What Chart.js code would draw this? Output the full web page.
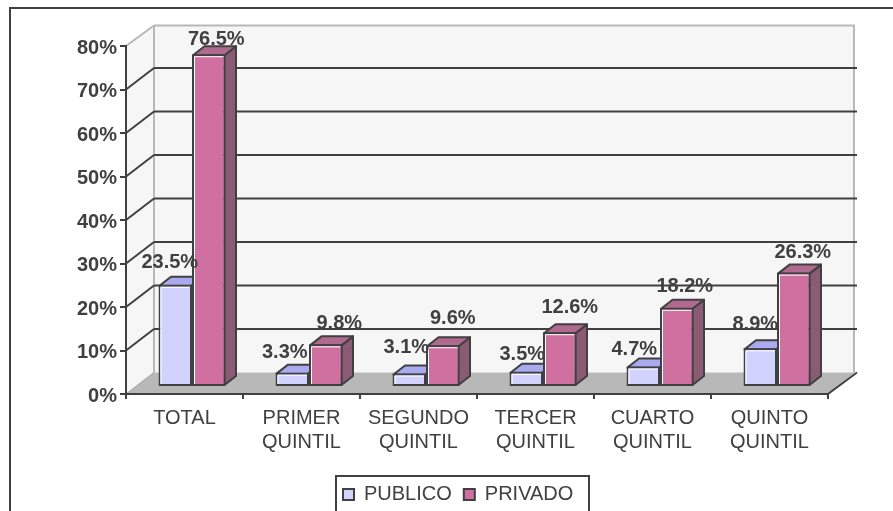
<!DOCTYPE html>
<html>
<head>
<meta charset="utf-8">
<style>html,body{margin:0;padding:0;background:#fff;overflow:hidden}canvas{display:block}</style>
<script src="https://cdn.jsdelivr.net/npm/chart.js@4/dist/chart.umd.min.js"></script>
</head>
<body>
<canvas id="c" width="893" height="511"></canvas>
<script>
const categories = [["TOTAL"], ["PRIMER", "QUINTIL"], ["SEGUNDO", "QUINTIL"], ["TERCER", "QUINTIL"], ["CUARTO", "QUINTIL"], ["QUINTO", "QUINTIL"]];
const publico = [23.5, 3.3, 3.1, 3.5, 4.7, 8.9];
const privado = [76.5, 9.8, 9.6, 12.6, 18.2, 26.3];

// label placement relative to each bar's front top centre (styling, not data)
const nudgePublico = [[-5.5, -22], [-7.5, -20], [-3, -26], [-4, -17], [-9, -17], [-5, -24]];
const nudgePrivado = [[7.5, -14.5], [13.5, -21], [10, -27], [10, -25], [8, -21], [9, -20]];

const INK = '#404040', FONT = '"Liberation Sans", Arial, sans-serif';
const BACK = {dx: 28, dy: -21.5, right: 855};
const BAR = {dx: 7.5, dy: -7, depthX: 11.5, depthY: -9};
const faces = [{top: '#AAAAF0', side: '#8E8EC8'}, {top: '#B06A90', side: '#8B5A75'}];

function poly(ctx, pts, fill, stroke, lw) {
  ctx.beginPath();
  pts.forEach((p, i) => i ? ctx.lineTo(p[0], p[1]) : ctx.moveTo(p[0], p[1]));
  ctx.closePath();
  if (fill) { ctx.fillStyle = fill; ctx.fill(); }
  if (stroke) { ctx.strokeStyle = stroke; ctx.lineWidth = lw; ctx.lineJoin = 'round'; ctx.stroke(); }
}
function line(ctx, x0, y0, x1, y1, color, lw) {
  ctx.beginPath(); ctx.moveTo(x0, y0); ctx.lineTo(x1, y1);
  ctx.strokeStyle = color; ctx.lineWidth = lw; ctx.stroke();
}

const scene = {
  id: 'scene',
  afterLayout(chart) {
    const lg = chart.legend;
    const h = lg.height;
    lg.left = 343 - lg.options.labels.padding;
    lg.right = 893;
    lg.top = 484.5 - lg.options.labels.padding;
    lg.bottom = lg.top + h;
  },
  beforeDraw(chart) {
    const {ctx, chartArea: a} = chart, y = chart.scales.y;
    const L = a.left, B = y.getPixelForValue(0), T = y.getPixelForValue(80), R = a.right;
    const bx = L + BACK.dx, bT = T + BACK.dy + 1, bB = B + BACK.dy, bR = BACK.right;
    ctx.save();
    ctx.fillStyle = '#fff'; ctx.fillRect(0, 0, chart.width, chart.height);
    // outer frame
    line(ctx, 9, 8, 893, 8, INK, 2);
    line(ctx, 10, 7, 10, 511, INK, 2);
    // walls and floor
    poly(ctx, [[bx, bT], [bR, bT], [bR, bB], [bx, bB]], '#F6F6F6');
    poly(ctx, [[L, T], [bx, bT], [bx, bB], [L, B]], '#F6F6F6');
    poly(ctx, [[L, B], [bx, bB], [bR, bB], [R, B]], '#B8B8B8');
    line(ctx, L, T, bx, bT, '#B8B8B8', 2);
    line(ctx, bx, bT, bR, bT, '#B8B8B8', 2);
    line(ctx, bx, bT, bx, bB, '#B8B8B8', 2);
    line(ctx, bR - 1, bT, bR - 1, bB, '#B8B8B8', 2);
    line(ctx, L, B, bx, bB, '#A0A0A0', 1);
    // grid lines from the value scale
    y.ticks.forEach(t => {
      const py = y.getPixelForValue(t.value);
      if (t.value > 0 && t.value < 80) {
        line(ctx, L, py, bx, py + BACK.dy, INK, 2);
        line(ctx, bx, py + BACK.dy, bR + 2, py + BACK.dy, INK, 2);
      }
    });
    line(ctx, R, B, bR + 2, bB, INK, 2);
    // legend frame
    ctx.strokeStyle = INK; ctx.lineWidth = 2;
    ctx.strokeRect(336, 476, 253, 60);
    ctx.restore();
  },
  beforeDatasetsDraw(chart) {
    const {ctx} = chart;
    ctx.save();
    ctx.translate(BAR.dx, BAR.dy);
    [0, 1].forEach(ds => {
      chart.getDatasetMeta(ds).data.forEach(b => {
        const x0 = b.x - b.width / 2 + 1, x1 = b.x + b.width / 2 - 1, t = b.y + 1, bt = b.base - 1;
        const dx = BAR.depthX, dy = BAR.depthY;
        poly(ctx, [[x1, t], [x1 + dx, t + dy], [x1 + dx, bt + dy], [x1, bt]], faces[ds].side, INK, 2);
        poly(ctx, [[x0, t], [x0 + dx, t + dy], [x1 + dx, t + dy], [x1, t]], faces[ds].top, INK, 2);
      });
    });
  },
  afterDatasetsDraw(chart) {
    const {ctx} = chart;
    [0, 1].forEach(ds => {
      chart.getDatasetMeta(ds).data.forEach(b => {
        const x0 = b.x - b.width / 2 + 2.5, x1 = b.x + b.width / 2 - 2, t = b.y + 2.5, bt = b.base - 2;
        ctx.beginPath(); ctx.moveTo(x1, t); ctx.lineTo(x0, t); ctx.lineTo(x0, bt);
        ctx.strokeStyle = '#fff'; ctx.lineWidth = 1; ctx.stroke();
      });
    });
    ctx.restore();
    // value labels
    ctx.save();
    ctx.font = 'bold 20px ' + FONT;
    ctx.fillStyle = INK; ctx.textAlign = 'center'; ctx.textBaseline = 'middle';
    [[0, nudgePublico], [1, nudgePrivado]].forEach(([ds, nudge]) => {
      const vals = chart.data.datasets[ds].data;
      chart.getDatasetMeta(ds).data.forEach((b, i) => {
        ctx.fillText(vals[i].toFixed(1) + '%', b.x + BAR.dx + nudge[i][0], b.y + BAR.dy + nudge[i][1]);
      });
    });
    ctx.restore();
  }
};

new Chart(document.getElementById('c'), {
  type: 'bar',
  data: {
    labels: categories,
    datasets: [
      {label: 'PUBLICO', data: publico, backgroundColor: '#D2D2FF', borderColor: INK, borderWidth: 2, borderSkipped: false, clip: false},
      {label: 'PRIVADO', data: privado, backgroundColor: '#D070A0', borderColor: INK, borderWidth: 2, borderSkipped: false, clip: false}
    ]
  },
  options: {
    responsive: false,
    animation: false,
    layout: {padding: {left: 0, right: 65, top: 46, bottom: 0}},
    categoryPercentage: 67 / 117,
    barPercentage: 1,
    plugins: {
      tooltip: {enabled: false},
      legend: {
        position: 'bottom',
        align: 'start',
        labels: {boxWidth: 11, boxHeight: 11, padding: 12, color: INK, font: {family: FONT, size: 20}}
      }
    },
    scales: {
      x: {
        afterFit(s) { s.height = 117 - s.chart.legend.height; },
        grid: {drawOnChartArea: false, color: INK, lineWidth: 2, tickLength: 5},
        border: {color: INK, width: 2},
        ticks: {color: INK, font: {family: FONT, size: 20}, maxRotation: 0, autoSkip: false, padding: 7}
      },
      y: {
        min: 0, max: 80,
        afterFit(s) { s.width = 126; },
        grid: {drawOnChartArea: false, color: INK, lineWidth: 2, tickLength: 6},
        border: {color: INK, width: 2},
        // the blank first line with a small line height sets the label 2px below its tick
        ticks: {stepSize: 10, color: INK, font: {family: FONT, size: 20, weight: 'bold', lineHeight: 0.2}, padding: 3, callback: v => ['', v + '%']}
      }
    }
  },
  plugins: [scene]
});
</script>
</body>
</html>
